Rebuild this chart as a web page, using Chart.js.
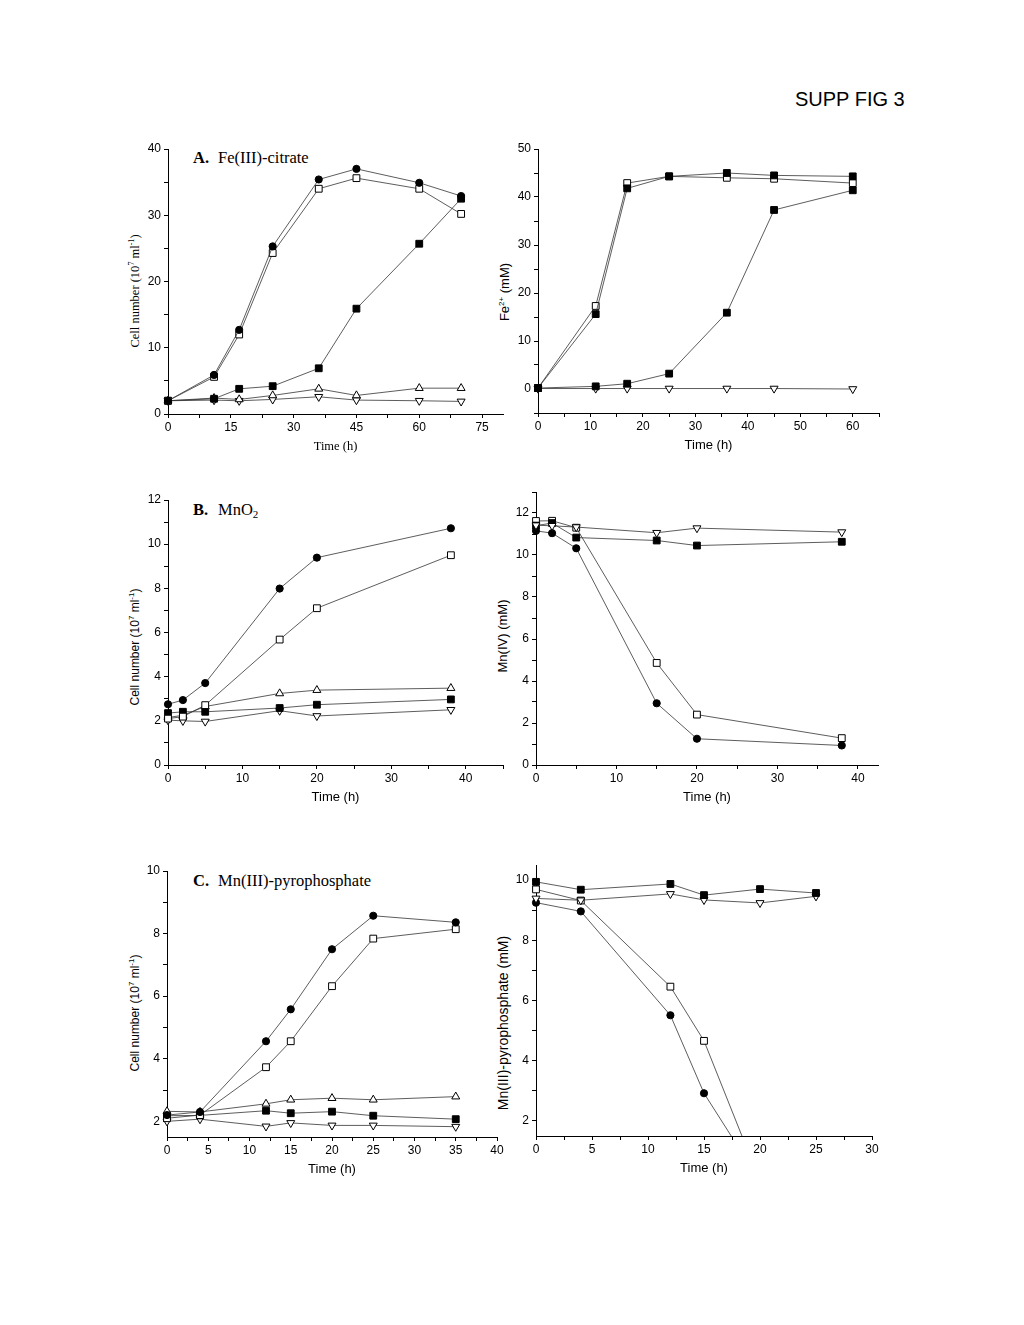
<!DOCTYPE html>
<html lang="en">
<head>
<meta charset="UTF-8">
<title>SUPP FIG 3</title>
<script src="https://cdn.jsdelivr.net/npm/chart.js"></script>
<style>
  body {
    margin: 0;
    width: 1024px;
    height: 1325px;
    position: relative;
    overflow: hidden;
    background: #fff;
    color: #000;
    font-family: 'Liberation Sans', Arial, sans-serif;
  }
  canvas, .lbl { position: absolute; }
  .fig { left: 795px; top: 89px; font-size: 20px; line-height: 1; }
  .panel { font-family: 'Liberation Serif', 'Times New Roman', serif; font-size: 16.5px; line-height: 1; }
  .panel sub { font-size: 11px; vertical-align: -3px; }
  .ytl {
    transform: translate(-50%, -50%) rotate(-90deg);
    white-space: nowrap;
    font-size: 13px;
    line-height: 1;
  }
  .ytl.cell { font-size: 12px; }
  .ytl.serif { font-family: 'Liberation Serif', 'Times New Roman', serif; font-size: 12.5px; }
  .ytl sup { font-size: 8px; vertical-align: 5px; line-height: 0; }
</style>
</head>
<body>
<div class="lbl fig">SUPP FIG 3</div>

<div class="lbl panel" style="left:193px;top:150px"><b>A.</b></div>
<div class="lbl panel" style="left:218px;top:150px">Fe(III)-citrate</div>
<div class="lbl panel" style="left:193px;top:502px"><b>B.</b></div>
<div class="lbl panel" style="left:218px;top:502px">MnO<sub>2</sub></div>
<div class="lbl panel" style="left:193px;top:873px"><b>C.</b></div>
<div class="lbl panel" style="left:218px;top:873px">Mn(III)-pyrophosphate</div>

<div class="lbl ytl serif" style="left:135px;top:291px">Cell number (10<sup>7</sup> ml<sup>-1</sup>)</div>
<div class="lbl ytl" style="left:504px;top:292px">Fe<sup>2+</sup> (mM)</div>
<div class="lbl ytl cell" style="left:135px;top:647px">Cell number (10<sup>7</sup> ml<sup>-1</sup>)</div>
<div class="lbl ytl" style="left:502px;top:636px">Mn(IV) (mM)</div>
<div class="lbl ytl cell" style="left:135px;top:1013px">Cell number (10<sup>7</sup> ml<sup>-1</sup>)</div>
<div class="lbl ytl" style="left:503px;top:1023px;font-size:14px">Mn(III)-pyrophosphate (mM)</div>

<script>
// ---- A. Fe(III)-citrate, cell numbers ----
const aTime       = [0, 11, 17, 25, 36, 45, 60, 70];
const aCellDot    = [2.0, 5.9, 12.7, 25.3, 35.4, 37.0, 34.9, 32.9];
const aCellOpenSq = [2.0, 5.6, 12.0, 24.3, 34.0, 35.6, 34.0, 30.2];
const aCellSq     = [2.0, 2.3, 3.8, 4.2, 6.9, 15.9, 25.7, 32.5];
const aCellUp     = [2.0, 2.4, 2.2, 2.8, 3.8, 2.8, 3.9, 3.9];
const aCellDown   = [2.0, 2.1, 2.0, 2.2, 2.6, 2.1, 2.0, 1.9];

// ---- A. Fe2+ produced ----
const aFeTime   = [0, 11, 17, 25, 36, 45, 60];
const aFeSqFast = [0.2, 15.6, 41.8, 44.3, 45.0, 44.5, 44.3];
const aFeOpenSq = [0.2, 17.3, 42.9, 44.3, 44.0, 43.8, 42.9];
const aFeSqSlow = [0.2, 0.55, 1.1, 3.2, 15.9, 37.3, 41.4];
const aFeDown   = [0.1, 0.1, 0.1, 0.1, 0.1, 0.1, 0.0];

// ---- B. MnO2 ----
const bTime       = [0, 2, 5, 15, 20, 38];
const bCellDot    = [2.75, 2.94, 3.71, 7.99, 9.39, 10.72];
const bCellOpenSq = [2.1, 2.19, 2.71, 5.68, 7.10, 9.50];
const bCellSq     = [2.35, 2.41, 2.41, 2.58, 2.73, 2.97];
const bCellUp     = [2.15, 2.25, 2.65, 3.24, 3.39, 3.48];
const bCellDown   = [2.03, 2.0, 1.97, 2.46, 2.22, 2.5];

const bMnDown   = [11.42, 11.39, 11.33, 11.06, 11.28, 11.09];
const bMnSq     = [11.4, 11.52, 10.83, 10.69, 10.45, 10.63];
const bMnOpenSq = [11.62, 11.63, 11.3, 4.86, 2.40, 1.28];
const bMnDot    = [11.15, 11.04, 10.32, 2.94, 1.25, 0.93];

// ---- C. Mn(III)-pyrophosphate ----
const cTime       = [0, 4, 12, 15, 20, 25, 35];
const cCellDot    = [2.2, 2.3, 4.56, 5.58, 7.50, 8.57, 8.36];
const cCellOpenSq = [2.1, 2.2, 3.73, 4.56, 6.32, 7.84, 8.14];
const cCellUp     = [2.32, 2.3, 2.56, 2.69, 2.74, 2.69, 2.79];
const cCellSq     = [2.18, 2.19, 2.34, 2.26, 2.31, 2.18, 2.07];
const cCellDown   = [2.0, 2.07, 1.84, 1.95, 1.87, 1.87, 1.83];

const cMnTime   = [0, 4, 12, 15, 20, 25];
const cMnSq     = [9.94, 9.68, 9.87, 9.50, 9.70, 9.57];
const cMnDown   = [9.39, 9.33, 9.54, 9.34, 9.24, 9.46];
const cMnOpenSq = [9.69, 9.32, 6.46, 4.66, 0.0];   // last point falls below the axis
const cMnDot    = [9.25, 8.96, 5.51, 2.92, 0.0];

// space reserved around each plot area
const Y_W = 30, X_H = 40, PAD_T = 12, PAD_R = 22;

const SANS  = { family: "'Liberation Sans', Arial, sans-serif", size: 13 };
const SERIF = { family: "'Liberation Serif', 'Times New Roman', serif", size: 12.5 };

const MARK = {
  dot:  { pointStyle: 'circle',   pointRadius: 3.6, pointBackgroundColor: '#000' },
  sq:   { pointStyle: 'rect',     pointRadius: 4.8, pointBackgroundColor: '#000' },
  open: { pointStyle: 'rect',     pointRadius: 4.8, pointBackgroundColor: '#fff' },
  up:   { pointStyle: 'triangle', pointRadius: 4.6, pointBackgroundColor: '#fff' },
  down: { pointStyle: 'triangle', pointRadius: 4.6, pointBackgroundColor: '#fff', pointRotation: 180 }
};

function series(xs, ys, mark) {
  return Object.assign({
    data: ys.map((y, i) => ({ x: xs[i], y: y })),
    borderColor: '#333',
    borderWidth: 0.8,
    pointBorderColor: '#000',
    pointBorderWidth: 1,
    pointHoverRadius: 0,
    clip: { left: 10, top: 10, right: 10, bottom: 0 }
  }, MARK[mark]);
}

function isMult(v, step) { return Math.abs(v / step - Math.round(v / step)) < 1e-6; }

function axis(pos, min, max, major, minor, title, font) {
  const horiz = pos === 'bottom';
  return {
    type: 'linear',
    position: pos,
    min: min,
    max: max,
    border: { color: '#000', width: 1 },
    grid: { drawOnChartArea: false, color: '#000', tickLength: 4 },
    ticks: {
      autoSkip: false,
      maxRotation: 0,
      color: '#000',
      padding: horiz ? 2 : 3,
      font: { family: "'Liberation Sans', Arial, sans-serif", size: 12 },
      callback: v => isMult(v, major) ? String(v) : ''
    },
    // one tick per minor step, labels only on major steps
    afterBuildTicks: s => {
      const ticks = [];
      for (let k = Math.ceil(min / minor - 1e-6); k * minor <= max + 1e-6; k++) {
        ticks.push({ value: Math.round(k * minor * 1000) / 1000 });
      }
      s.ticks = ticks;
    },
    afterFit: s => { if (horiz) s.height = X_H; else s.width = Y_W; },
    title: { display: !!title, text: title, color: '#000', padding: 0, font: font }
  };
}

// box = plot area in page pixels
function plot(box, xAxis, yAxis, datasets) {
  const cv = document.createElement('canvas');
  cv.width = Y_W + (box.right - box.left) + PAD_R;
  cv.height = PAD_T + (box.bottom - box.top) + X_H;
  cv.style.left = (box.left - Y_W) + 'px';
  cv.style.top = (box.top - PAD_T) + 'px';
  document.body.appendChild(cv);
  new Chart(cv.getContext('2d'), {
    type: 'line',
    data: { datasets: datasets },
    options: {
      responsive: false,
      animation: false,
      devicePixelRatio: 1,
      layout: { padding: { top: PAD_T, right: PAD_R, left: 0, bottom: 0 } },
      plugins: { legend: { display: false }, tooltip: { enabled: false } },
      scales: { x: xAxis, y: yAxis }
    }
  });
}

plot({ left: 168, right: 503, top: 149, bottom: 414 },
  axis('bottom', 0, 80, 15, 7.5, 'Time (h)', SERIF),
  axis('left', 0, 40, 10, 5),
  [series(aTime, aCellDot, 'dot'), series(aTime, aCellOpenSq, 'open'), series(aTime, aCellSq, 'sq'),
   series(aTime, aCellUp, 'up'), series(aTime, aCellDown, 'down')]);

plot({ left: 538, right: 879, top: 149, bottom: 413 },
  axis('bottom', 0, 65, 10, 5, 'Time (h)', SANS),
  axis('left', -5, 50, 10, 5),
  [series(aFeTime, aFeSqFast, 'sq'), series(aFeTime, aFeOpenSq, 'open'),
   series(aFeTime, aFeSqSlow, 'sq'), series(aFeTime, aFeDown, 'down')]);

plot({ left: 168, right: 503, top: 500, bottom: 765 },
  axis('bottom', 0, 45, 10, 5, 'Time (h)', SANS),
  axis('left', 0, 12, 2, 1),
  [series(bTime, bCellDot, 'dot'), series(bTime, bCellOpenSq, 'open'), series(bTime, bCellSq, 'sq'),
   series(bTime, bCellUp, 'up'), series(bTime, bCellDown, 'down')]);

plot({ left: 536, right: 878, top: 492, bottom: 765 },
  axis('bottom', 0, 42.5, 10, 5, 'Time (h)', SANS),
  axis('left', 0, 13, 2, 1),
  [series(bTime, bMnDown, 'down'), series(bTime, bMnSq, 'sq'),
   series(bTime, bMnOpenSq, 'open'), series(bTime, bMnDot, 'dot')]);

plot({ left: 167, right: 497, top: 871, bottom: 1137 },
  axis('bottom', 0, 40, 5, 2.5, 'Time (h)', SANS),
  axis('left', 1.5, 10, 2, 1),
  [series(cTime, cCellDot, 'dot'), series(cTime, cCellOpenSq, 'open'), series(cTime, cCellUp, 'up'),
   series(cTime, cCellSq, 'sq'), series(cTime, cCellDown, 'down')]);

plot({ left: 536, right: 872, top: 865, bottom: 1136 },
  axis('bottom', 0, 30, 5, 2.5, 'Time (h)', SANS),
  axis('left', 1.5, 10.5, 2, 1),
  [series(cMnTime, cMnSq, 'sq'), series(cMnTime, cMnDown, 'down'),
   series(cMnTime, cMnOpenSq, 'open'), series(cMnTime, cMnDot, 'dot')]);
</script>
</body>
</html>
